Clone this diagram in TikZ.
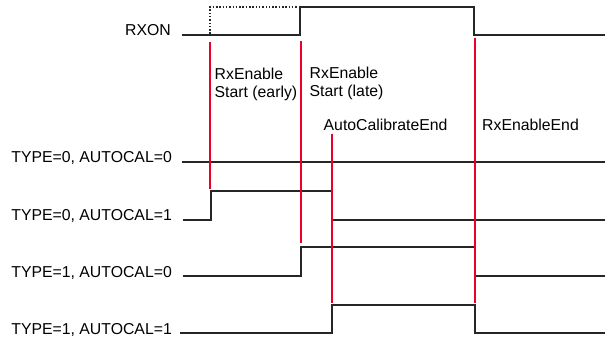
\documentclass[tikz,border=0pt]{standalone}
\usepackage{fontspec}
\setmainfont{Liberation Sans}
\definecolor{evtred}{RGB}{235,0,40}
\begin{document}
\begin{tikzpicture}[x=1pt,y=-1pt,
  sig/.style={draw=black!85, line width=1.3pt},
  dotsig/.style={draw=black!85, line width=1.1pt, dash pattern=on 1.5pt off 1.8pt},
  evt/.style={draw=evtred, line width=1.15pt},
  lbl/.style={inner sep=0pt, font=\fontsize{15.8}{19}\selectfont}]
\useasboundingbox (0,0) rectangle (605,339);
% labels
\node[lbl, anchor=base east] (rxon) at (171,36) {RXON};
\node[lbl, anchor=base east] (r1) at (172,163) {TYPE=0, AUTOCAL=0};
\node[lbl, anchor=base east] (r2) at (172,221) {TYPE=0, AUTOCAL=1};
\node[lbl, anchor=base east] (r3) at (172,277) {TYPE=1, AUTOCAL=0};
\node[lbl, anchor=base east] (r4) at (172,334) {TYPE=1, AUTOCAL=1};
\node[lbl, anchor=base west] (e1) at (214.5,80) {RxEnable};
\node[lbl, anchor=base west] (e2) at (214.5,98) {Start (early)};
\node[lbl, anchor=base west] (l1) at (309.5,79) {RxEnable};
\node[lbl, anchor=base west] (l2) at (309.5,97) {Start (late)};
\node[lbl, anchor=base west] (ac) at (323.5,131) {AutoCalibrateEnd};
\node[lbl, anchor=base west] (re) at (482,131) {RxEnableEnd};
% signals
\draw[sig] (182,35) -- (300,35) -- (300,7) -- (474,7) -- (474,35) -- (605,35);
\draw[dotsig] (210,34) -- (210,7) -- (300,7);
\draw[sig] (182,162) -- (605,162);
\draw[sig] (183,220) -- (211,220) -- (211,191) -- (332,191) -- (332,220) -- (605,220);
\draw[sig] (183,276) -- (301,276) -- (301,247) -- (475,247) -- (475,276) -- (605,276);
\draw[sig] (180,333) -- (332,333) -- (332,305) -- (475,305) -- (475,333) -- (605,333);
% events
\draw[evt] (210,42) -- (210,189);
\draw[evt] (301,41) -- (301,243);
\draw[evt] (332,134) -- (332,303);
\draw[evt] (475,38) -- (475,303);
\end{tikzpicture}
\end{document}
